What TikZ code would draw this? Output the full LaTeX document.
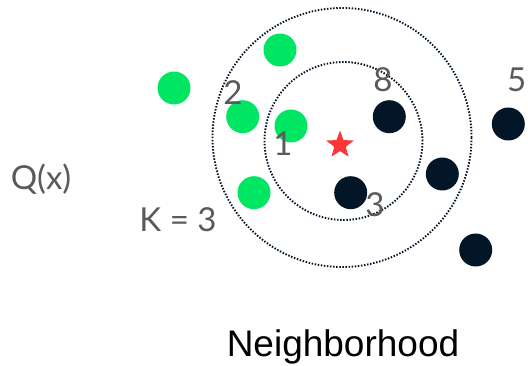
\documentclass[tikz,border=0pt]{standalone}
\usepackage{fontspec}
\newfontfamily\lato{Lato}
\setmainfont{Liberation Sans}
\usetikzlibrary{shapes.geometric}

\definecolor{dotgreen}{RGB}{0,230,98}
\definecolor{dotnavy}{RGB}{3,22,40}
\definecolor{labelgray}{RGB}{90,90,90}
\definecolor{starred}{RGB}{250,55,55}

\tikzset{
	yes/.style={circle,fill=dotgreen,minimum size=33pt,inner sep=0pt},
	no/.style={circle,fill=dotnavy,minimum size=33pt,inner sep=0pt},
	rank/.style={text=labelgray,font=\lato\fontsize{33}{33}\selectfont,inner sep=0pt},
	ring/.style={draw=dotnavy,line width=1.9pt,dash pattern=on 1.5pt off 1.6pt}
}

\begin{document}
\begin{tikzpicture}[x=1pt,y=-1pt]
	% the page is 528 x 366, with y going down
	\useasboundingbox (0,0) rectangle (528,366);
	% the two neighborhoods around the query point
	\draw[ring] (342,137.5) circle (129.5pt);
	\draw[ring] (343.5,141) circle (79pt);
	% green points
	\node[yes] (g1) at (280,50) {};
	\node[yes] (g2) at (174,88) {};
	\node[yes] (g3) at (242.7,116.7) {};
	\node[yes] (g4) at (291,126) {};
	\node[yes] (g5) at (254,192.7) {};
	% dark points
	\node[no] (d1) at (389.3,116.7) {};
	\node[no] (d2) at (508.3,124) {};
	\node[no] (d3) at (442.3,174) {};
	\node[no] (d4) at (350.7,192.7) {};
	\node[no] (d5) at (475.7,250) {};
	% the query point
	\node[star,star points=5,star point ratio=2.4,fill=starred,minimum size=29pt,inner sep=0pt] (query) at (340,145) {};
	% labels
	\node[rank] (two) at (233,93) {2};
	\node[rank] (eight) at (383,80) {8};
	\node[rank] (five) at (516.7,80) {5};
	\node[rank] (one) at (283,144) {1};
	\node[rank] (three) at (375,205) {3};
	\node[rank] (kval) at (178,220) {K = 3};
	\node[rank] (qx) at (41,179) {Q(x)};
	\node[font=\fontsize{37}{37}\selectfont,inner sep=0pt] (title) at (343,347) {Neighborhood};
\end{tikzpicture}
\end{document}
